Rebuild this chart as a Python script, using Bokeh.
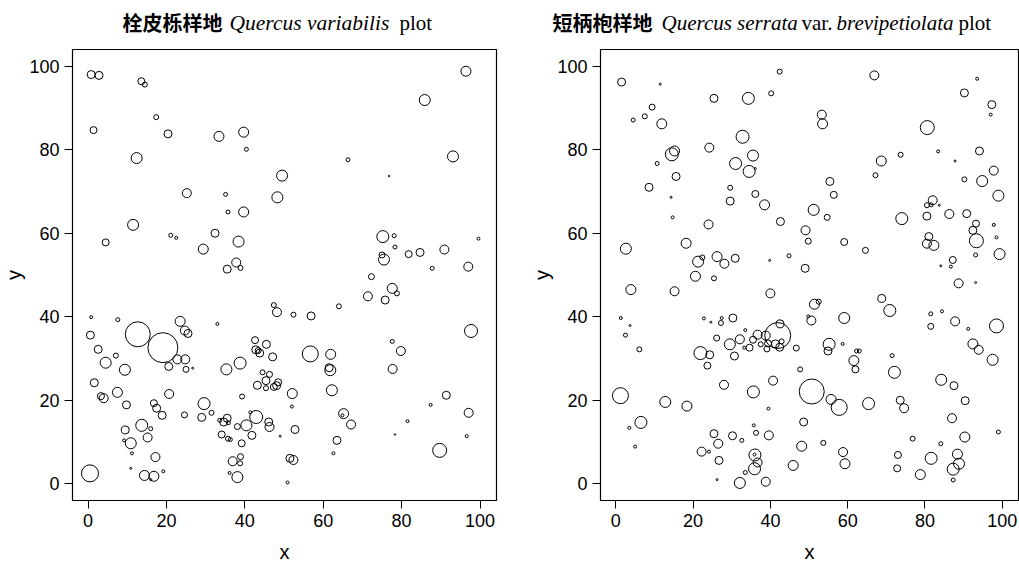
from bokeh.plotting import figure
from bokeh.models import FixedTicker, Range1d, ColumnDataSource
from bokeh.core.properties import value
from bokeh.layouts import row, column
from bokeh.embed import file_html
from bokeh.resources import INLINE

# ---------------- data: left panel (Quercus variabilis plot) ----------------
qv_x = [0.8, 2.8, 13.6, 14.5, 17.4, 1.4, 20.4, 33.4, 39.7, 40.4, 12.4, 49.5, 48.3, 25.2, 35.1, 35.7,
        39.7, 11.5, 4.5, 21.1, 22.5, 32.4, 29.4, 38.4, 37.8, 38.9, 35.5, 96.4, 85.9, 93.1, 66.3, 76.8,
        75.2, 78.1, 78.3, 75.0, 75.5, 81.8, 84.7, 90.9, 99.6, 87.8, 97.0, 72.3, 0.8, 7.6, 0.6, 12.7,
        19.1, 23.5, 24.7, 25.5, 2.6, 7.1, 4.5, 9.4, 20.6, 22.8, 24.8, 25.0, 26.7, 33.0, 35.3, 38.8,
        1.6, 3.3, 4.0, 7.5, 9.8, 20.7, 16.8, 17.5, 18.9, 24.6, 29.6, 29.0, 31.5, 39.3, 9.5, 9.2,
        10.9, 13.7, 16.0, 15.2, 11.2, 17.2, 10.9, 19.2, 14.4, 16.8, 16.0, 0.5, 33.6, 34.6, 35.5, 35.8,
        38.1, 40.4, 42.9, 41.8, 34.1, 35.7, 36.3, 39.2, 41.4, 46.1, 46.3, 49.0, 36.9, 38.9, 38.8, 38.1,
        36.1, 42.6, 45.5, 42.8, 43.4, 43.8, 47.1, 44.5, 46.3, 45.4, 43.2, 45.4, 47.4, 48.1, 48.5, 47.4,
        48.2, 52.1, 52.0, 52.8, 51.5, 52.4, 50.9, 52.4, 71.4, 77.6, 78.8, 75.8, 56.9, 64.0, 97.7, 77.6,
        79.8, 77.7, 56.7, 61.9, 61.5, 61.8, 62.2, 65.2, 64.9, 67.1, 63.5, 62.6, 91.4, 87.4, 81.5, 78.3,
        97.1, 96.6, 89.7]
qv_y = [98.0, 97.8, 96.4, 95.6, 87.8, 84.7, 83.8, 83.2, 84.2, 80.1, 78.0, 73.8, 68.6, 69.6, 69.3, 65.1,
        65.1, 62.0, 57.8, 59.5, 58.9, 60.0, 56.2, 58.0, 53.0, 51.7, 51.4, 98.8, 91.9, 78.4, 77.6, 73.7,
        59.2, 59.4, 56.7, 54.8, 53.7, 55.0, 55.4, 56.1, 58.7, 51.6, 52.0, 49.6, 39.9, 39.3, 35.6, 35.8,
        32.6, 38.9, 36.7, 36.0, 32.2, 30.7, 29.0, 27.3, 28.1, 29.8, 29.8, 27.4, 27.7, 38.3, 27.4, 28.9,
        24.2, 21.0, 20.5, 21.9, 18.9, 21.5, 19.3, 18.1, 16.4, 16.5, 19.2, 15.9, 17.0, 20.9, 12.9, 10.4,
        9.7, 14.0, 13.2, 11.1, 7.3, 6.4, 3.7, 3.0, 2.0, 1.8, 1.0, 2.5, 15.2, 14.8, 15.7, 14.6,
        13.7, 14.0, 16.0, 11.6, 11.8, 10.8, 10.6, 9.7, 17.1, 14.8, 13.6, 11.4, 5.4, 6.5, 4.9, 1.6,
        2.6, 34.4, 33.4, 32.1, 31.9, 31.3, 30.4, 26.7, 26.2, 24.7, 23.6, 22.9, 23.2, 23.5, 24.3, 42.8,
        41.1, 21.6, 18.5, 13.0, 6.1, 5.7, 0.3, 40.5, 44.9, 46.8, 45.6, 44.0, 40.2, 42.5, 36.6, 34.1,
        31.8, 27.5, 31.1, 31.0, 27.8, 27.2, 22.4, 16.8, 16.4, 14.2, 10.4, 7.3, 21.2, 18.9, 15.0, 11.8,
        17.0, 11.4, 8.0]
qv_dbh = [16, 16, 14, 10, 10, 14, 16, 20, 20, 8, 22, 22, 22, 18, 8, 8,
          20, 22, 14, 8, 6, 16, 20, 22, 18, 10, 16, 20, 22, 22, 8, 3,
          24, 8, 8, 12, 22, 14, 16, 18, 6, 8, 18, 12, 6, 8, 16, 50,
          60, 20, 18, 16, 16, 10, 22, 22, 16, 18, 18, 12, 4, 6, 22, 24,
          16, 14, 18, 20, 16, 18, 14, 16, 16, 12, 24, 16, 10, 10, 16, 6,
          22, 24, 8, 18, 6, 18, 4, 6, 20, 20, 4, 34, 8, 16, 16, 8,
          12, 22, 26, 16, 14, 10, 8, 14, 6, 16, 18, 4, 18, 12, 10, 22,
          6, 14, 16, 16, 12, 16, 16, 10, 12, 16, 16, 10, 14, 16, 14, 10,
          18, 20, 6, 16, 16, 18, 6, 10, 18, 20, 10, 16, 16, 10, 26, 8,
          18, 18, 32, 20, 16, 22, 22, 20, 6, 18, 16, 6, 16, 6, 6, 3,
          18, 6, 28]

# ---------------- data: right panel (Quercus serrata var. brevipetiolata plot) ----------------
qs_x = [1.5, 11.5, 9.4, 4.5, 7.5, 11.9, 14.5, 15.2, 10.7, 15.6, 8.6, 14.3, 14.7, 25.4, 34.3, 40.2,
        42.4, 32.8, 24.2, 35.5, 31.0, 34.5, 36.1, 29.6, 29.6, 36.1, 38.5, 42.6, 24.0, 2.6, 18.2, 21.3,
        22.4, 26.2, 28.1, 30.9, 39.8, 20.6, 25.4, 66.9, 93.5, 90.2, 97.3, 97.0, 53.3, 53.5, 80.6, 94.1,
        83.4, 87.8, 73.7, 68.7, 67.2, 90.2, 94.8, 55.4, 56.4, 51.2, 54.7, 49.1, 49.8, 59.1, 64.6, 74.0,
        44.8, 49.0, 82.0, 80.5, 81.6, 83.7, 80.5, 86.3, 90.8, 93.2, 92.4, 93.3, 93.1, 81.0, 80.5, 82.3,
        87.2, 84.1, 86.7, 88.7, 97.8, 99.0, 97.8, 98.5, 99.3, 98.5, 97.5, 99.0, 93.1, 3.9, 15.2, 40.0,
        1.3, 3.7, 2.5, 6.1, 1.2, 12.8, 18.4, 6.5, 3.5, 5.0, 22.8, 24.6, 27.4, 27.2, 30.3, 33.5,
        26.1, 29.5, 32.1, 21.9, 24.3, 23.7, 30.7, 33.2, 34.6, 35.5, 36.7, 37.5, 38.8, 39.1, 39.4, 41.3,
        42.4, 42.9, 42.5, 41.9, 40.7, 28.0, 35.6, 39.5, 35.7, 36.3, 39.6, 25.4, 30.2, 32.6, 26.5, 22.2,
        24.1, 26.7, 36.0, 35.9, 36.7, 35.9, 33.5, 26.2, 32.1, 38.8, 51.4, 52.5, 49.8, 50.6, 59.1, 68.8,
        70.9, 46.7, 55.2, 54.9, 58.7, 62.3, 63.0, 61.6, 62.0, 47.7, 50.7, 55.7, 57.8, 65.4, 71.5, 72.1,
        73.6, 74.6, 48.6, 48.1, 53.7, 58.8, 59.3, 45.9, 73.0, 72.8, 78.8, 76.8, 81.6, 84.1, 88.4, 88.8,
        87.3, 87.3, 90.3, 87.0, 90.4, 84.2, 87.5, 81.5, 84.4, 81.5, 87.8, 91.2, 92.4, 93.9]
qs_y = [96.2, 95.7, 90.2, 87.1, 88.0, 86.2, 78.9, 79.7, 76.7, 73.6, 71.0, 68.6, 63.8, 92.3, 92.3, 93.5,
        98.7, 83.1, 80.5, 78.6, 76.7, 74.8, 75.5, 70.9, 67.7, 69.4, 66.8, 62.8, 62.1, 56.3, 57.6, 53.2,
        54.2, 54.4, 52.7, 54.0, 53.5, 49.7, 49.2, 97.8, 97.0, 93.6, 90.8, 88.4, 88.4, 86.2, 85.3, 79.7,
        79.6, 77.3, 78.8, 77.3, 73.9, 72.9, 72.5, 72.4, 69.2, 65.6, 63.8, 60.7, 58.1, 57.9, 55.9, 63.5,
        54.6, 51.6, 67.9, 66.7, 66.8, 66.7, 64.1, 64.6, 64.7, 62.3, 60.7, 58.2, 54.8, 59.2, 57.5, 57.1,
        53.6, 52.2, 52.0, 48.0, 75.0, 69.0, 62.0, 59.0, 55.0, 37.8, 29.7, 12.4, 48.2, 46.5, 46.1, 45.6,
        39.7, 37.9, 35.6, 32.2, 21.1, 19.6, 18.6, 14.7, 13.4, 8.9, 39.6, 38.7, 39.7, 38.5, 39.7, 36.8,
        34.9, 33.4, 34.6, 31.3, 30.9, 28.3, 30.6, 32.6, 32.6, 34.5, 35.7, 33.4, 35.5, 32.3, 33.6, 33.5,
        32.7, 34.1, 38.3, 35.5, 24.7, 23.7, 22.0, 18.0, 14.0, 12.2, 11.6, 12.0, 11.5, 10.4, 9.6, 7.7,
        7.7, 5.6, 6.9, 7.0, 5.1, 3.6, 2.7, 1.0, 0.2, 0.5, 43.0, 43.6, 40.1, 39.1, 39.7, 44.4,
        41.5, 32.5, 33.4, 31.8, 33.5, 31.8, 31.8, 29.5, 27.4, 27.4, 22.1, 20.2, 18.3, 19.2, 30.7, 26.7,
        20.0, 18.1, 14.8, 9.0, 9.8, 7.6, 4.8, 4.4, 6.9, 3.7, 2.2, 10.8, 6.1, 9.6, 7.1, 4.8,
        3.5, 0.9, 11.2, 15.7, 19.9, 24.9, 23.5, 40.7, 41.3, 37.7, 38.9, 37.1, 33.5, 32.1]
qs_dbh = [16, 4, 12, 8, 10, 20, 26, 20, 8, 16, 16, 4, 6, 16, 24, 10,
          10, 26, 18, 22, 24, 24, 4, 10, 16, 14, 20, 16, 18, 22, 20, 22,
          10, 20, 18, 16, 4, 20, 10, 18, 6, 16, 16, 6, 18, 20, 28, 16,
          6, 4, 10, 20, 10, 10, 22, 16, 14, 22, 12, 18, 12, 14, 12, 24,
          8, 16, 18, 10, 8, 4, 16, 18, 16, 14, 16, 28, 8, 16, 18, 20,
          14, 4, 6, 18, 18, 22, 6, 6, 22, 28, 22, 8, 4, 20, 18, 18,
          6, 4, 8, 10, 32, 22, 20, 24, 6, 6, 6, 4, 6, 10, 16, 6,
          12, 22, 18, 26, 16, 14, 16, 6, 14, 14, 18, 10, 18, 12, 14, 16,
          16, 10, 16, 52, 18, 18, 24, 6, 6, 10, 18, 16, 16, 8, 18, 18,
          6, 16, 24, 6, 18, 24, 8, 4, 22, 18, 20, 10, 6, 18, 22, 16,
          24, 12, 24, 16, 6, 8, 8, 20, 14, 10, 50, 20, 32, 24, 8, 24,
          16, 18, 16, 20, 10, 18, 20, 20, 14, 14, 20, 10, 24, 8, 20, 22,
          24, 8, 20, 18, 16, 22, 16, 8, 6, 12, 18, 6, 20, 18]

tick_values = [0, 20, 40, 60, 80, 100]

TITLE_H = 45
TITLE_BASELINE = 23   # px above the bottom of the title strip


def make_panel(xs, ys, dbh, width, border_left, border_right):
    p = figure(width=width, height=567 - TITLE_H, x_range=Range1d(-3.96, 104.2), y_range=Range1d(-4, 104),
               output_backend="svg", toolbar_location=None,
               min_border_left=border_left, min_border_right=border_right,
               min_border_top=4, min_border_bottom=67)
    p.background_fill_color = "white"
    p.border_fill_color = "white"
    p.grid.visible = False
    p.outline_line_color = "black"
    p.outline_line_width = 1.2
    p.outline_line_alpha = 1.0
    src = ColumnDataSource(dict(x=xs, y=ys, dbh=dbh, s=[d * 0.5 for d in dbh]))
    p.scatter(x="x", y="y", size="s", source=src, marker="circle",
              fill_color=None, line_color="black", line_width=1)
    for ax in (p.xaxis[0], p.yaxis[0]):
        ax.ticker = FixedTicker(ticks=tick_values)
        ax.axis_line_color = None
        ax.major_tick_out = 8
        ax.major_tick_in = 0
        ax.major_tick_line_color = "black"
        ax.major_tick_line_width = 1
        ax.minor_tick_line_color = None
        ax.major_label_text_font = "Liberation Sans"
        ax.major_label_text_font_size = "18px"
        ax.major_label_text_color = "black"
        ax.major_label_standoff = 5
        ax.axis_label_text_font = "Liberation Sans"
        ax.axis_label_text_font_size = "20px"
        ax.axis_label_text_font_style = "normal"
        ax.axis_label_text_color = "black"
    p.xaxis[0].axis_label = "x"
    p.xaxis[0].axis_label_standoff = 11
    p.yaxis[0].axis_label = "y"
    p.yaxis[0].axis_label_standoff = 1
    p.yaxis[0].major_label_orientation = "horizontal"
    return p


def make_title(width, parts):
    t = figure(width=width, height=TITLE_H, x_range=Range1d(0, width), y_range=Range1d(0, TITLE_H),
               output_backend="svg", toolbar_location=None, x_axis_location=None, y_axis_location=None,
               min_border_left=0, min_border_right=0, min_border_top=0, min_border_bottom=0)
    t.grid.visible = False
    t.outline_line_color = None
    t.background_fill_color = "white"
    t.border_fill_color = "white"
    for txt, xpos, font, style, size in parts:
        t.text(x=[xpos], y=[TITLE_BASELINE], text=[txt], text_font=value(font), text_font_style=style,
               text_font_size=size, text_color="black", text_align="left", text_baseline="alphabetic")
    return t


left_title = [("栓皮栎样地", 122, "Noto Sans CJK SC", "bold", "20px"),
              ("Quercus variabilis", 229, "Liberation Serif", "italic", "21.5px"),
              ("plot", 399, "Liberation Serif", "normal", "21px")]
right_title = [("短柄枹样地", 24, "Noto Sans CJK SC", "bold", "20px"),
               ("Quercus serrata", 133, "Liberation Serif", "italic", "21px"),
               ("var.", 273, "Liberation Serif", "normal", "21px"),
               ("brevipetiolata", 308, "Liberation Serif", "italic", "21px"),
               ("plot", 430, "Liberation Serif", "normal", "21px")]

W1, W2 = 528, 491
t1 = make_title(W1, left_title)
t2 = make_title(W2, right_title)
p1 = make_panel(qv_x, qv_y, qv_dbh, W1, 67, 32)
p2 = make_panel(qs_x, qs_y, qs_dbh, W2, 61, 1)

layout = column(row(t1, t2), row(p1, p2))
open("out.html", "w").write(file_html(layout, INLINE))
